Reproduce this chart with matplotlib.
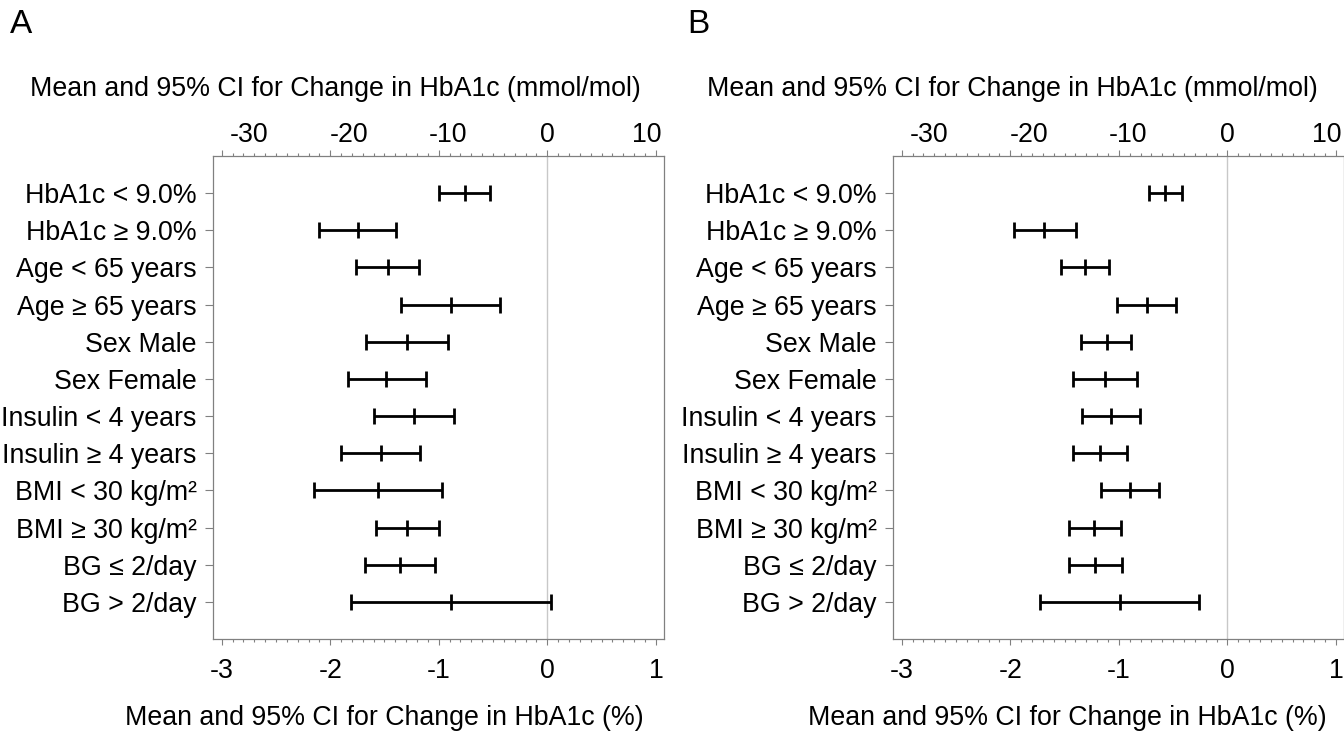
import matplotlib
matplotlib.use("Agg")
import matplotlib.pyplot as plt
from matplotlib.ticker import MultipleLocator

plt.rcParams['font.family'] = ['Liberation Sans', 'DejaVu Sans']

# --- data (change in HbA1c, %) ---
labels = ["HbA1c < 9.0%", "HbA1c ≥ 9.0%", "Age < 65 years", "Age ≥ 65 years",
          "Sex Male", "Sex Female", "Insulin < 4 years", "Insulin ≥ 4 years",
          "BMI < 30 kg/m²", "BMI ≥ 30 kg/m²", "BG ≤ 2/day", "BG > 2/day"]

a_mean = [-0.76, -1.746, -1.467, -0.887, -1.292, -1.482, -1.227, -1.534, -1.562, -1.289, -1.356, -0.887]
a_low = [-0.994, -2.10, -1.759, -1.347, -1.667, -1.832, -1.596, -1.90, -2.148, -1.577, -1.679, -1.805]
a_high = [-0.530, -1.393, -1.179, -0.433, -0.917, -1.120, -0.859, -1.175, -0.970, -0.997, -1.031, 0.031]

b_mean = [-0.571, -1.688, -1.308, -0.742, -1.111, -1.125, -1.071, -1.172, -0.896, -1.225, -1.218, -0.991]
b_low = [-0.724, -1.967, -1.531, -1.013, -1.347, -1.42, -1.338, -1.42, -1.166, -1.458, -1.458, -1.722]
b_high = [-0.417, -1.396, -1.092, -0.475, -0.887, -0.83, -0.804, -0.923, -0.629, -0.982, -0.970, -0.261]

FS = 19.3
GRAY = '#808080'


def pct2mmol(x):
    return x * 10.929


def mmol2pct(x):
    return x / 10.929


def panel(ax, mean, low, high):
    y = list(range(1, len(labels) + 1))
    xerr = [[m - l for m, l in zip(mean, low)], [h - m for m, h in zip(mean, high)]]
    ax.axvline(0, color='#c8c8c8', lw=1, zorder=0)
    ax.errorbar(mean, y, xerr=xerr, fmt='|', color='black', ms=11.5, mew=2,
                elinewidth=2, capsize=5.7, capthick=2)
    ax.set_xlim(-3.077, 1.074)
    ax.set_ylim(13, 0)
    ax.set_yticks(y)
    ax.set_yticklabels(labels, fontsize=FS)
    ax.xaxis.set_major_locator(MultipleLocator(1))
    ax.xaxis.set_minor_locator(MultipleLocator(0.1))
    ax.set_xticks([-3, -2, -1, 0, 1])
    ax.set_xticklabels(['-3', '-2', '-1', '0', '1'], fontsize=FS)
    ax.tick_params(axis='x', which='major', top=True, direction='out', length=4.5,
                   width=0.8, color=GRAY, pad=9)
    ax.tick_params(axis='x', which='minor', top=True, direction='out', length=2.5,
                   width=0.8, color=GRAY)
    ax.tick_params(axis='y', direction='out', length=6, width=0.8, color=GRAY, pad=6)
    for s in ax.spines.values():
        s.set_color(GRAY)
        s.set_linewidth(0.9)
    sec = ax.secondary_xaxis('top', functions=(pct2mmol, mmol2pct))
    sec.set_xticks([-30, -20, -10, 0, 10])
    sec.set_xticklabels(['-30', '-20', '-10', '0', '10'], fontsize=FS)
    sec.tick_params(length=0, pad=6)
    sec.spines['top'].set_visible(False)


fig = plt.figure(figsize=(13.44, 7.31), dpi=100)
ax_a = fig.add_axes([0.1587, 0.1259, 0.3353, 0.6607])
ax_b = fig.add_axes([0.6647, 0.1259, 0.3353, 0.6607])
panel(ax_a, a_mean, a_low, a_high)
panel(ax_b, b_mean, b_low, b_high)

fig.text(0.0075, 0.966, "A", fontsize=24, va='center', ha='left')
fig.text(0.5115, 0.966, "B", fontsize=24, va='center', ha='left')
top_t = "Mean and 95% CI for Change in HbA1c (mmol/mol)"
bot_t = "Mean and 95% CI for Change in HbA1c (%)"
fig.text(335 / 1344, 1 - 89 / 731, top_t, fontsize=FS, ha='center', va='center')
fig.text(1012 / 1344, 1 - 89 / 731, top_t, fontsize=FS, ha='center', va='center')
fig.text(384.5 / 1344, 1 - 718 / 731, bot_t, fontsize=FS, ha='center', va='center')
fig.text(1067 / 1344, 1 - 718 / 731, bot_t, fontsize=FS, ha='center', va='center')

fig.savefig("out.png", dpi=100)
